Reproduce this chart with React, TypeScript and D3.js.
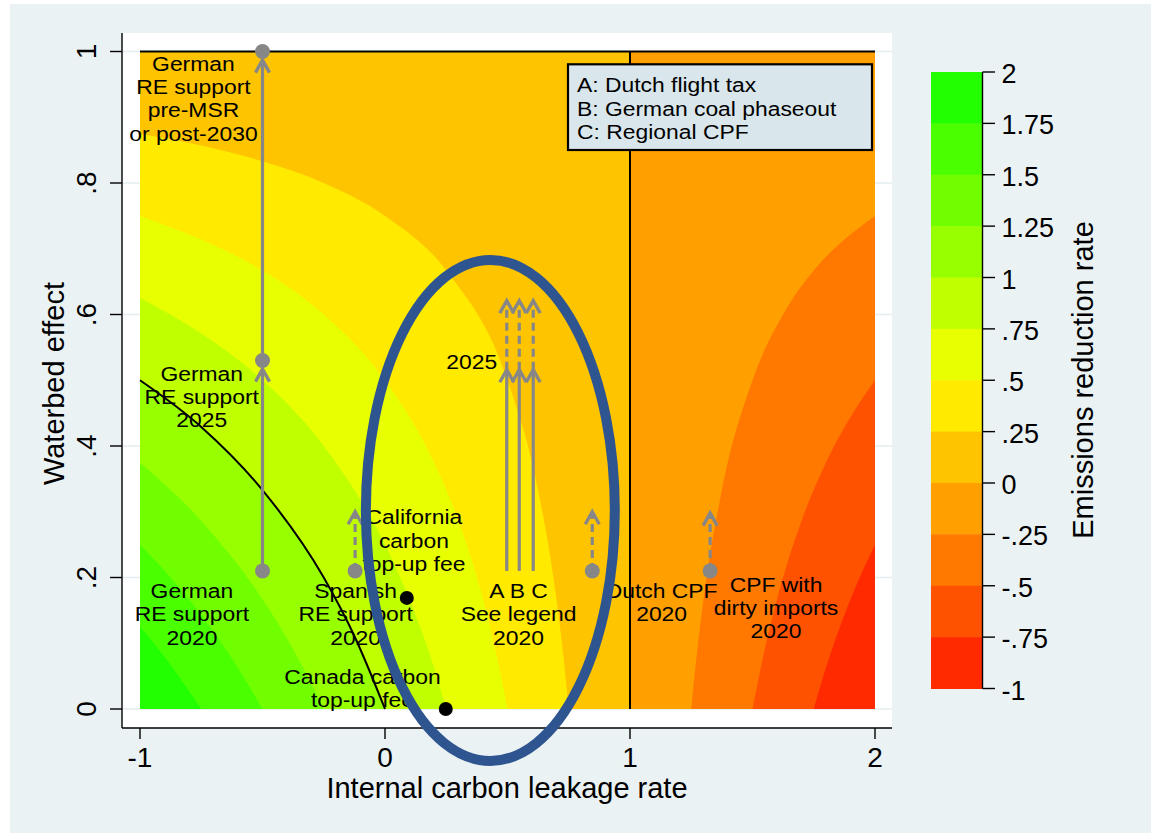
import React from "react";
import * as d3 from "d3";

// axes
const xTicks = [-1, 0, 1, 2];
const yTicks = [0, 0.2, 0.4, 0.6, 0.8, 1];
const yTickLabels = ["0", ".2", ".4", ".6", ".8", "1"];

// colour ramp (top to bottom)
const rampLevels = [2, 1.75, 1.5, 1.25, 1, 0.75, 0.5, 0.25, 0, -0.25, -0.5, -0.75, -1];
const rampLabels = ["2", "1.75", "1.5", "1.25", "1", ".75", ".5", ".25", "0", "-.25", "-.5", "-.75", "-1"];
const bandColors = [
  "#22FF00", "#4AFF00", "#71FF00", "#98FF00", "#C0FF00", "#E7FF00",
  "#FFEA00", "#FFC400", "#FF9F00", "#FF7900", "#FF5200", "#FF2A00",
];

// contour boundaries: [leakage, waterbed]
const bound025 = [[-1, 0.875], [-0.75, 0.857], [-0.5, 0.833], [-0.25, 0.8], [0, 0.75], [0.25, 0.667], [0.5, 0.5], [0.625, 0.333], [0.7, 0.167], [0.725, 0.091], [0.75, 0]];
const bound050 = [[-1, 0.75], [-0.75, 0.714], [-0.5, 0.667], [-0.25, 0.6], [0, 0.5], [0.2, 0.375], [0.3, 0.286], [0.4, 0.167], [0.45, 0.091], [0.5, 0]];
const bound075 = [[-1, 0.625], [-0.75, 0.571], [-0.5, 0.5], [-0.25, 0.4], [0, 0.25], [0.1, 0.167], [0.2, 0.063], [0.225, 0.032], [0.25, 0]];
const bound100 = [[-1, 0.5], [-0.75, 0.429], [-0.5, 0.333], [-0.25, 0.2], [-0.125, 0.111], [0, 0]];
const bound125 = [[-1, 0.375], [-0.75, 0.286], [-0.5, 0.167], [-0.375, 0.091], [-0.25, 0]];
const bound150 = [[-1, 0.25], [-0.875, 0.2], [-0.75, 0.143], [-0.625, 0.077], [-0.5, 0]];
const bound175 = [[-1, 0.125], [-0.9375, 0.097], [-0.875, 0.067], [-0.8125, 0.034], [-0.75, 0]];
const boundM025 = [[1.25, 0], [1.275, 0.091], [1.3, 0.167], [1.375, 0.333], [1.5, 0.5], [1.625, 0.6], [1.75, 0.667], [1.875, 0.714], [2, 0.75]];
const boundM050 = [[1.5, 0], [1.55, 0.091], [1.6, 0.167], [1.7, 0.286], [1.8, 0.375], [1.9, 0.444], [2, 0.5]];
const boundM075 = [[1.75, 0], [1.8, 0.063], [1.875, 0.143], [1.9375, 0.2], [2, 0.25]];

const posBounds = [
  { level: 0.25, pts: bound025 },
  { level: 0.5, pts: bound050 },
  { level: 0.75, pts: bound075 },
  { level: 1, pts: bound100 },
  { level: 1.25, pts: bound125 },
  { level: 1.5, pts: bound150 },
  { level: 1.75, pts: bound175 },
];
const negBounds = [
  { level: -0.25, pts: boundM025 },
  { level: -0.5, pts: boundM050 },
  { level: -0.75, pts: boundM075 },
];

// policies
const grayPointsX = [-0.5, -0.5, -0.5, -0.122, 0.846, 1.327];
const grayPointsY = [0.21, 0.53, 1.0, 0.21, 0.21, 0.21];
const blackPointsX = [0.089, 0.248];
const blackPointsY = [0.169, 0];

const arrows = [
  { x: -0.5, from: 0.21, to: 0.517, dashed: false },
  { x: -0.5, from: 0.53, to: 0.987, dashed: false },
  { x: 0.497, from: 0.21, to: 0.516, dashed: false },
  { x: 0.548, from: 0.21, to: 0.516, dashed: false },
  { x: 0.605, from: 0.21, to: 0.516, dashed: false },
  { x: 0.497, from: 0.516, to: 0.621, dashed: true },
  { x: 0.548, from: 0.516, to: 0.621, dashed: true },
  { x: 0.605, from: 0.516, to: 0.621, dashed: true },
  { x: -0.122, from: 0.21, to: 0.3, dashed: true },
  { x: 0.846, from: 0.21, to: 0.3, dashed: true },
  { x: 1.327, from: 0.21, to: 0.298, dashed: true },
];

const notes = [
  { x: -0.782, y: 0.982, lines: ["German", "RE support", "pre-MSR", "or post-2030"] },
  { x: -0.748, y: 0.511, lines: ["German", "RE support", "2025"] },
  { x: -0.788, y: 0.18, lines: ["German", "RE support", "2020"] },
  { x: -0.12, y: 0.18, lines: ["Spanish", "RE support", "2020"] },
  { x: 0.118, y: 0.292, lines: ["California", "carbon", "top-up fee"] },
  { x: -0.092, y: 0.05, lines: ["Canada carbon", "top-up fee"] },
  { x: 0.545, y: 0.18, lines: ["A B C", "See legend", "2020"] },
  { x: 0.354, y: 0.528, lines: ["2025"] },
  { x: 1.129, y: 0.18, lines: ["Dutch CPF", "2020"] },
  { x: 1.596, y: 0.19, lines: ["CPF with", "dirty imports", "2020"] },
];

const legendLines = ["A: Dutch flight tax", "B: German coal phaseout", "C: Regional CPF"];

const highlight = { cx: 0.43, cy: 0.302, rx: 0.508, ry: 0.381 };

const FONT = "'Liberation Sans', Arial, Helvetica, sans-serif";
const GRAY = "#878787";

export default function App() {
  const x = d3.scaleLinear().domain([-1, 2]).range([140, 875]);
  const y = d3.scaleLinear().domain([0, 1]).range([709, 51.5]);
  const z = d3.scaleLinear().domain([-1, 2]).range([688.5, 72]);

  const plot = { left: 122, right: 892, top: 33, bottom: 728 };

  const line = d3
    .line<number[]>()
    .x((d) => x(d[0]))
    .y((d) => y(d[1]))
    .curve(d3.curveMonotoneX);

  const bandAbove = (c: number) => bandColors[rampLevels.indexOf(c) - 1];
  const bandBelow = (c: number) => bandColors[rampLevels.indexOf(c)];

  // Stata text is a bit wider than Liberation Sans at the same height
  const lh = 23.3;
  const fs = 20.8;
  const sx = 1.1;

  return (
    <svg
      width={1151}
      height={833}
      style={{ position: "absolute", left: 0, top: 0 }}
      fontFamily={FONT}
    >
      <rect x={0} y={0} width={1151} height={833} fill="#fff" />
      <rect x={10} y={4} width={1141} height={829} fill="#EAF2F3" />
      <rect
        x={plot.left}
        y={plot.top}
        width={plot.right - plot.left}
        height={plot.bottom - plot.top}
        fill="#fff"
      />
      {yTicks.map((t) => (
        <line key={"g" + t} x1={plot.left} x2={plot.right} y1={y(t)} y2={y(t)} stroke="#E3ECEF" strokeWidth={1.3} />
      ))}

      {/* contour bands */}
      <rect x={x(-1)} y={y(1)} width={x(1) - x(-1)} height={y(0) - y(1)} fill={bandAbove(0)} />
      <rect x={x(1)} y={y(1)} width={x(2) - x(1)} height={y(0) - y(1)} fill={bandBelow(0)} />
      {posBounds.map((b) => (
        <path key={"p" + b.level} d={`${line(b.pts)}L${x(-1)},${y(0)}Z`} fill={bandAbove(b.level)} />
      ))}
      {negBounds.map((b) => (
        <path key={"n" + b.level} d={`${line(b.pts)}L${x(2)},${y(0)}Z`} fill={bandBelow(b.level)} />
      ))}

      {/* zero and unit lines */}
      <line x1={x(-1)} x2={x(2)} y1={y(1)} y2={y(1)} stroke="#000" strokeWidth={2.2} />
      <line x1={x(1)} x2={x(1)} y1={y(0)} y2={y(1)} stroke="#000" strokeWidth={2} />
      <path d={line(bound100) || ""} fill="none" stroke="#000" strokeWidth={2} />

      {/* arrows */}
      {arrows.map((a, i) => {
        const px = x(a.x);
        const tip = y(a.to);
        return (
          <g key={"a" + i} stroke={GRAY} fill="none">
            <line
              x1={px}
              x2={px}
              y1={y(a.from)}
              y2={tip + 2}
              strokeWidth={3.2}
              strokeDasharray={a.dashed ? "8 5" : undefined}
            />
            <path
              d={`M${px - 7},${tip + 12.5}L${px},${tip}L${px + 7},${tip + 12.5}`}
              strokeWidth={3.4}
              strokeLinejoin="miter"
            />
          </g>
        );
      })}
      {grayPointsX.map((v, i) => (
        <circle key={"gp" + i} cx={x(v)} cy={y(grayPointsY[i])} r={7.5} fill={GRAY} />
      ))}
      {blackPointsX.map((v, i) => (
        <circle key={"bp" + i} cx={x(v)} cy={y(blackPointsY[i])} r={7} fill="#000" />
      ))}

      {/* labels */}
      {notes.map((n, i) =>
        n.lines.map((l, j) => (
          <text
            key={"t" + i + "-" + j}
            transform={`translate(${x(n.x)},${y(n.y) + j * lh + 0.36 * fs}) scale(${sx},1)`}
            fontSize={fs}
            textAnchor="middle"
            fill="#000"
          >
            {l}
          </text>
        ))
      )}

      {/* policy legend */}
      <rect x={568} y={64.3} width={304} height={85.7} fill="#D9E6EB" stroke="#000" strokeWidth={2.2} />
      {legendLines.map((l, i) => (
        <text
          key={"l" + i}
          transform={`translate(577,${85 + i * lh + 0.36 * fs}) scale(${sx},1)`}
          fontSize={fs}
          fill="#000"
        >
          {l}
        </text>
      ))}

      {/* axes */}
      <line x1={plot.left} x2={plot.left} y1={plot.top} y2={plot.bottom} stroke="#000" strokeWidth={1.4} />
      <line x1={plot.left} x2={plot.right} y1={plot.bottom} y2={plot.bottom} stroke="#000" strokeWidth={1.4} />
      {yTicks.map((t, i) => (
        <g key={"yt" + t}>
          <line x1={plot.left - 12} x2={plot.left} y1={y(t)} y2={y(t)} stroke="#000" strokeWidth={1.4} />
          <text
            transform={`translate(96,${y(t)}) rotate(-90)`}
            textAnchor="middle"
            fontSize={28}
            fill="#000"
          >
            {yTickLabels[i]}
          </text>
        </g>
      ))}
      {xTicks.map((t) => (
        <g key={"xt" + t}>
          <line x1={x(t)} x2={x(t)} y1={plot.bottom} y2={plot.bottom + 11} stroke="#000" strokeWidth={1.4} />
          <text x={x(t)} y={766.7} textAnchor="middle" fontSize={28} fill="#000">
            {t}
          </text>
        </g>
      ))}
      <text x={(plot.left + plot.right) / 2} y={798} textAnchor="middle" fontSize={29} fill="#000">
        Internal carbon leakage rate
      </text>
      <text
        transform={`translate(63.5,${(plot.top + plot.bottom) / 2 + 3}) rotate(-90)`}
        textAnchor="middle"
        fontSize={29}
        fill="#000"
      >
        Waterbed effect
      </text>

      {/* highlight ellipse, drawn over the axis */}
      <ellipse
        cx={x(highlight.cx)}
        cy={y(highlight.cy)}
        rx={x(highlight.cx + highlight.rx) - x(highlight.cx)}
        ry={y(0) - y(highlight.ry)}
        fill="none"
        stroke="#2F5591"
        strokeWidth={10}
      />

      {/* colour ramp */}
      {bandColors.map((c, i) => (
        <rect
          key={"r" + i}
          x={931}
          y={z(rampLevels[i])}
          width={51.5}
          height={z(rampLevels[i + 1]) - z(rampLevels[i]) + 0.5}
          fill={c}
        />
      ))}
      <line x1={982.5} x2={982.5} y1={z(2)} y2={z(-1)} stroke="#000" strokeWidth={1.4} />
      {rampLevels.map((v, i) => (
        <g key={"rt" + i}>
          <line x1={982.5} x2={995} y1={z(v)} y2={z(v)} stroke="#000" strokeWidth={1.4} />
          <text x={1001.5} y={z(v) + 11} fontSize={27} fill="#000">
            {rampLabels[i]}
          </text>
        </g>
      ))}
      <text transform={`translate(1092.5,380) rotate(-90)`} textAnchor="middle" fontSize={29} fill="#000">
        Emissions reduction rate
      </text>
    </svg>
  );
}
